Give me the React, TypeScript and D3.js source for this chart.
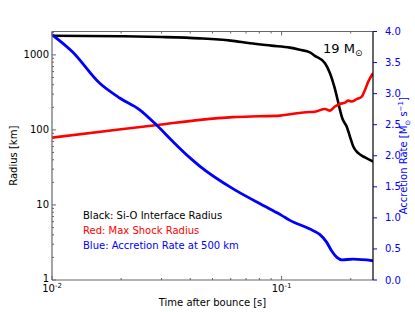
import React from "react";
import * as d3 from "d3";

// ---- data ----
const blackT = [0.01, 0.02, 0.03, 0.044, 0.06, 0.0728, 0.09, 0.1087, 0.12, 0.1328, 0.1397, 0.1545, 0.1624, 0.1696, 0.1754, 0.1795, 0.1837, 0.192, 0.1985, 0.2051, 0.2158, 0.2307, 0.25];
const blackR = [1800, 1770, 1730, 1660, 1550, 1430, 1330, 1250, 1170, 1080, 970, 775, 570, 378, 251, 185, 143, 111, 81, 60, 49, 43, 38];

const redT = [0.01, 0.02, 0.03, 0.0441, 0.0613, 0.08, 0.0985, 0.1087, 0.1285, 0.1397, 0.1545, 0.1624, 0.1706, 0.1795, 0.1887, 0.195, 0.2016, 0.2122, 0.2233, 0.2307, 0.2385, 0.25];
const redR = [79, 102, 118, 136, 148, 152, 155, 162, 172, 175, 190, 181, 205, 222, 231, 246, 239, 257, 278, 341, 441, 570];

const blueT = [0.01, 0.0123, 0.0161, 0.0197, 0.0241, 0.0286, 0.0336, 0.0398, 0.0441, 0.0613, 0.0862, 0.1, 0.1087, 0.1328, 0.1469, 0.157, 0.165, 0.174, 0.183, 0.205, 0.25];
const blueV = [3.95, 3.67, 3.17, 2.93, 2.74, 2.49, 2.23, 1.97, 1.83, 1.47, 1.17, 1.04, 0.96, 0.82, 0.73, 0.61, 0.47, 0.365, 0.325, 0.335, 0.31];

const leftTicks = [1, 10, 100, 1000];
const rightTicks = [0, 0.5, 1, 1.5, 2, 2.5, 3, 3.5, 4];
const xMajor = [0.01, 0.1];
const legendLines = [
  { text: "Black: Si-O Interface Radius", color: "#000" },
  { text: "Red: Max Shock Radius", color: "#ff0000" },
  { text: "Blue: Accretion Rate at 500 km", color: "#0000ff" },
];

const W = 415;
const H = 312;
const m = { left: 52, right: 42, top: 31.5, bottom: 32 };
const font = "DejaVu Sans, sans-serif";
const spine = "#666";

export default function App() {
  const x = d3.scaleLog().domain([0.01, 0.25]).range([m.left, W - m.right]);
  const yL = d3.scaleLog().domain([1, 2050]).range([H - m.bottom, m.top]);
  const yR = d3.scaleLinear().domain([0, 4]).range([H - m.bottom, m.top]);

  const lineL = d3.line<number>().curve(d3.curveMonotoneX);
  const blackPath = lineL(blackT.map((t, i) => [x(t), yL(blackR[i])]) as any);
  const redPath = lineL(redT.map((t, i) => [x(t), yL(redR[i])]) as any);
  const bluePath = lineL(blueT.map((t, i) => [x(t), yR(blueV[i])]) as any);

  const x0 = m.left, x1 = W - m.right, y0 = m.top, y1 = H - m.bottom;
  const xMinor = x.ticks().filter((t) => !xMajor.some((v) => Math.abs(v - t) < 1e-9));
  const yMinor = yL.ticks().filter((t) => !leftTicks.includes(t) && t <= 2050);

  return (
    <div style={{ position: "fixed", left: 0, top: 0 }}>
      <svg width={W} height={H} style={{ display: "block", background: "#fff" }} fontFamily={font}>
        <defs>
          <clipPath id="plot">
            <rect x={x0} y={y0} width={x1 - x0} height={y1 - y0} />
          </clipPath>
        </defs>

        <g clipPath="url(#plot)" fill="none" strokeLinejoin="round">
          <path d={blackPath!} stroke="#000" strokeWidth={2.6} />
          <path d={redPath!} stroke="#ff0000" strokeWidth={2.6} />
          <path d={bluePath!} stroke="#0000ff" strokeWidth={2.8} />
        </g>

        {/* spines */}
        <line x1={x0} x2={x0} y1={y0} y2={y1} stroke={spine} strokeWidth={1.2} />
        <line x1={x0} x2={x1} y1={y0} y2={y0} stroke={spine} strokeWidth={1.2} />
        <line x1={x0} x2={x1} y1={y1} y2={y1} stroke={spine} strokeWidth={1.2} />
        <line x1={x1} x2={x1} y1={y0} y2={y1} stroke="#000" strokeWidth={1.2} />

        {/* x ticks, top and bottom, inward */}
        {xMajor.map((t) => (
          <g key={"xm" + t}>
            <line x1={x(t)} x2={x(t)} y1={y1} y2={y1 - 4} stroke={spine} />
            <line x1={x(t)} x2={x(t)} y1={y0} y2={y0 + 4} stroke={spine} />
            <text x={x(t)} y={y1 + 12} textAnchor="middle" fontSize={10}>
              10<tspan fontSize={7} dy={-4}>{t === 0.01 ? "-2" : "-1"}</tspan>
            </text>
          </g>
        ))}
        {xMinor.map((t) => (
          <g key={"xn" + t}>
            <line x1={x(t)} x2={x(t)} y1={y1} y2={y1 - 2} stroke={spine} />
            <line x1={x(t)} x2={x(t)} y1={y0} y2={y0 + 2} stroke={spine} />
          </g>
        ))}

        {/* left axis */}
        {leftTicks.map((v) => (
          <g key={"yl" + v}>
            <line x1={x0} x2={x0 + 4} y1={yL(v)} y2={yL(v)} stroke={spine} />
            <text x={x0 - 3} y={yL(v) + (v === 1 ? 2 : 3.5)} textAnchor="end" fontSize={10}>{v}</text>
          </g>
        ))}
        {yMinor.map((v) => (
          <line key={"yn" + v} x1={x0} x2={x0 + 2} y1={yL(v)} y2={yL(v)} stroke={spine} />
        ))}
        <text transform={`translate(17,${(y0 + y1) / 2}) rotate(-90)`} textAnchor="middle" fontSize={10}>
          Radius [km]
        </text>

        {/* right axis */}
        {rightTicks.map((v) => (
          <g key={"yr" + v}>
            <line x1={x1} x2={x1 + 4} y1={yR(v)} y2={yR(v)} stroke="#0000ff" />
            <text x={x1 + 12} y={yR(v) + 3.5} fontSize={10} fill="#0000ff">{v.toFixed(1)}</text>
          </g>
        ))}
        <text transform={`translate(407,${(y0 + y1) / 2}) rotate(-90)`} textAnchor="middle" fontSize={10} fill="#0000ff">
          Accretion Rate [M<tspan fontSize={7} dy={3}>⊙</tspan>
          <tspan dy={-3}> s</tspan>
          <tspan fontSize={7} dy={-4}>−1</tspan>
          <tspan dy={4}>]</tspan>
        </text>

        <text x={(x0 + x1) / 2} y={H - 6} textAnchor="middle" fontSize={10}>Time after bounce [s]</text>

        {/* annotation */}
        <text x={323} y={52.5} fontSize={13}>
          19 M<tspan fontSize={9} dy={3}>⊙</tspan>
        </text>

        {legendLines.map((l, i) => (
          <text key={l.text} x={83} y={218.5 + i * 15.3} fontSize={10} fill={l.color}>{l.text}</text>
        ))}
      </svg>
    </div>
  );
}
